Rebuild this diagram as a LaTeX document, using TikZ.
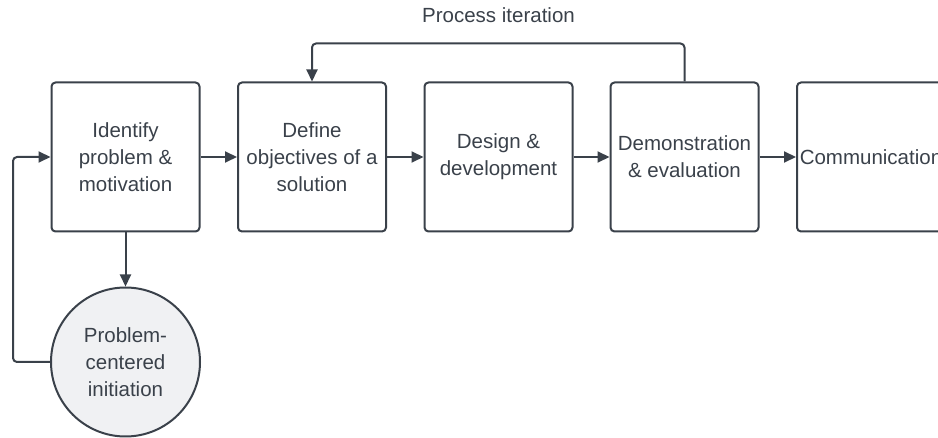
\documentclass[tikz,border=0pt]{standalone}
\usepackage{fontspec}
\setmainfont{Liberation Sans}
\usetikzlibrary{arrows.meta}
\definecolor{linegray}{HTML}{3A414A}
\definecolor{textgray}{HTML}{3A414A}
\definecolor{circlefill}{HTML}{F0F1F3}
\tikzset{
    stepbox/.style={draw=linegray, rounded corners=4pt, minimum width=148pt, minimum height=149pt,
        align=center, inner sep=0pt, text=textgray, font=\fontsize{20.5}{27}\selectfont},
    startcircle/.style={draw=linegray, circle, fill=circlefill, minimum size=149pt,
        align=center, inner sep=0pt, text=textgray, font=\fontsize{20.5}{27}\selectfont},
    flow/.style={draw=linegray, -{Triangle[length=12pt,width=11pt]}}
}
\begin{document}
\begin{tikzpicture}[x=1pt, y=-1pt, line width=2pt]
    \useasboundingbox (0,0) rectangle (938,438);
    \clip (0,0) rectangle (938,438);

    % Draw the process steps
    \node[stepbox] (ident) at (125.5, 157) {Identify\\problem \&\\motivation};
    \node[stepbox] (define) at (312, 157) {Define\\objectives of a\\solution};
    \node[stepbox] (design) at (498.5, 157) {Design \&\\development};
    \node[stepbox] (demo) at (684.5, 157) {Demonstration\\\& evaluation};
    \node[stepbox] (comm) at (871, 157) {Communication};

    % Draw the entry point
    \node[startcircle] (init) at (125.5, 362) {Problem-\\centered\\initiation};

    % Draw the arrows between the steps
    \draw[flow] (ident) -- (define);
    \draw[flow] (define) -- (design);
    \draw[flow] (design) -- (demo);
    \draw[flow] (demo) -- (comm);
    \draw[flow] (ident) -- (init);

    % Draw the loops
    \draw[flow, rounded corners=4pt] (init.west) -- ++(-37,0) |- (ident.west);
    \draw[flow, rounded corners=4pt] (demo.north) -- ++(0,-38) -| (define.north);
    \node[text=textgray, font=\fontsize{20.5}{27}\selectfont] (iterlabel) at (498.5, 15) {Process iteration};
\end{tikzpicture}
\end{document}
